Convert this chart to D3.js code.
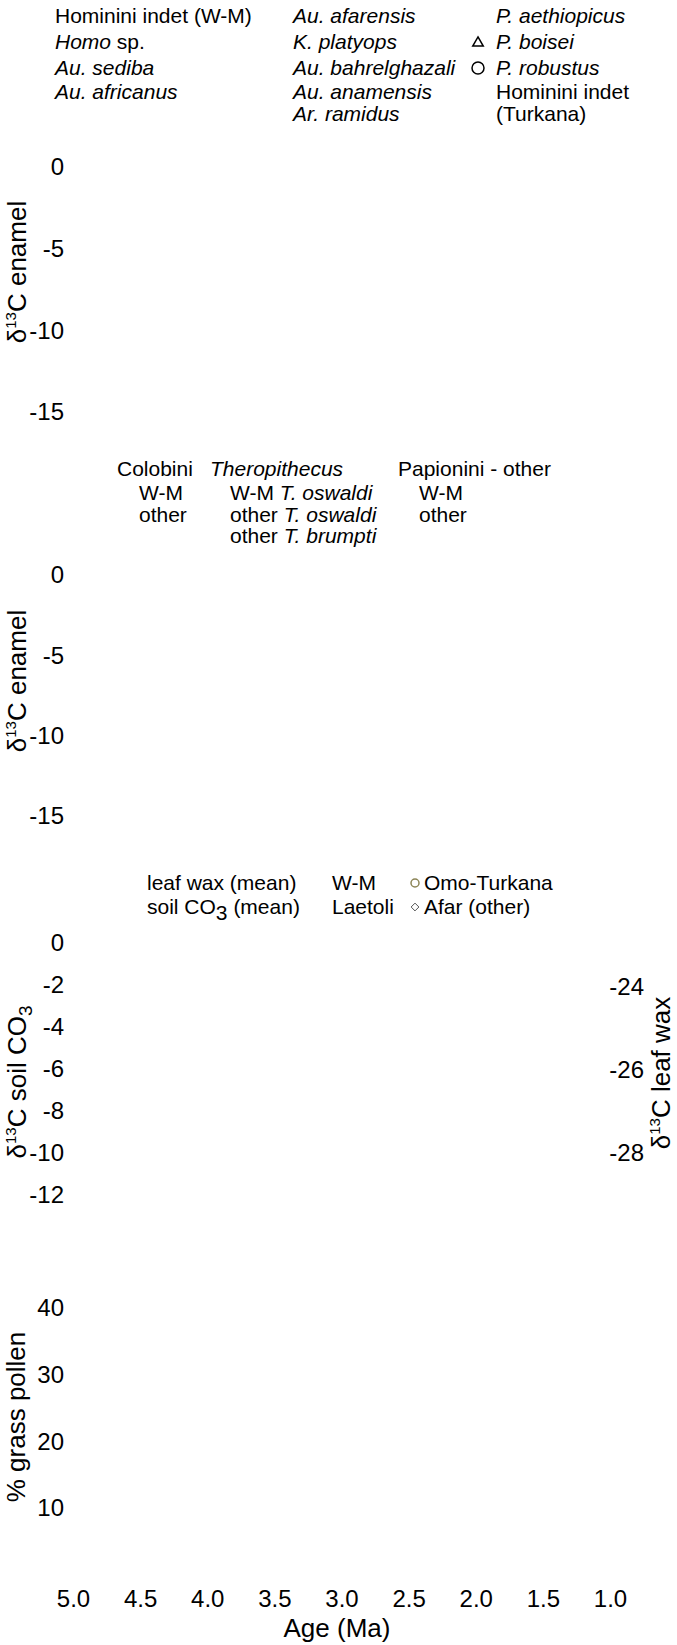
<!DOCTYPE html>
<html>
<head>
<meta charset="utf-8">
<script src="https://cdn.jsdelivr.net/npm/d3@7"></script>
<style>
  body { margin: 0; background: #fff; }
  svg { display: block; font-family: "Liberation Sans", Arial, sans-serif; }
  .tick text { fill: #000; }
</style>
</head>
<body>
<svg id="chart" width="677" height="1645"></svg>
<script>
// tick values
const ageTicks = [5.0, 4.5, 4.0, 3.5, 3.0, 2.5, 2.0, 1.5, 1.0];
const enamelTicks = [0, -5, -10, -15];
const soilTicks = [0, -2, -4, -6, -8, -10, -12];
const waxTicks = [-24, -26, -28];
const pollenTicks = [40, 30, 20, 10];

// legend texts; each entry is a list of [text, italic]
const homininCol1 = [[["Hominini indet (W-M)", 0]], [["Homo", 1], [" sp.", 0]], [["Au. sediba", 1]], [["Au. africanus", 1]]];
const homininCol2 = [[["Au. afarensis", 1]], [["K. platyops", 1]], [["Au. bahrelghazali", 1]], [["Au. anamensis", 1]], [["Ar. ramidus", 1]]];
const homininCol3 = [[["P. aethiopicus", 1]], [["P. boisei", 1]], [["P. robustus", 1]], [["Hominini indet", 0]], [["(Turkana)", 0]]];
const homininSymbols = [null, "triangle", "circle", null, null];

const monkeyHeads = [[["Colobini", 0]], [["Theropithecus", 1]], [["Papionini - other", 0]]];
const colobiniRows = [[["W-M", 0]], [["other", 0]]];
const theroRows = [[["W-M ", 0], ["T. oswaldi", 1]], [["other ", 0], ["T. oswaldi", 1]], [["other ", 0], ["T. brumpti", 1]]];
const papioRows = [[["W-M", 0]], [["other", 0]]];

const proxyRows = ["leaf wax (mean)", "soil CO3 (mean)"];
const siteRows = ["W-M", "Laetoli"];
const basinRows = ["Omo-Turkana", "Afar (other)"];
const basinSymbols = ["circle", "diamond"];

const svg = d3.select("#chart");
const TICK_FS = 24, TITLE_FS = 26, LEG_FS = 21;

// shared age axis
const x = d3.scaleLinear().domain([5, 1]).range([73, 610]);

// panel scales (y)
const yEnamelTop = d3.scaleLinear().domain([0, -15]).range([167, 412]);
const yEnamelMid = d3.scaleLinear().domain([0, -15]).range([575, 816]);
const ySoil = d3.scaleLinear().domain([0, -12]).range([943, 1195]);
const yWax = d3.scaleLinear().domain([-24, -28]).range([987, 1153]);
const yPollen = d3.scaleLinear().domain([40, 10]).range([1308, 1508]);

function styleAxis(g) {
  g.select(".domain").remove();
  g.selectAll(".tick line").remove();
  g.selectAll(".tick text").attr("font-size", TICK_FS).attr("font-family", null);
}

function leftAxis(scale, ticks) {
  svg.append("g").attr("transform", "translate(64,0)")
    .call(d3.axisLeft(scale).tickValues(ticks).tickSize(0).tickPadding(0).tickFormat(d => String(d)))
    .call(styleAxis);
}

leftAxis(yEnamelTop, enamelTicks);
leftAxis(yEnamelMid, enamelTicks);
leftAxis(ySoil, soilTicks);
leftAxis(yPollen, pollenTicks);

svg.append("g").attr("transform", "translate(644,0)")
  .call(d3.axisRight(yWax).tickValues(waxTicks).tickSize(0).tickPadding(0).tickFormat(d => String(d)))
  .call(styleAxis)
  .selectAll(".tick text").attr("text-anchor", "end").attr("x", 0);

svg.append("g").attr("transform", "translate(0,1580)")
  .call(d3.axisBottom(x).tickValues(ageTicks).tickSize(0).tickPadding(10).tickFormat(d3.format(".1f")))
  .call(styleAxis);

svg.append("text").attr("x", 337).attr("y", 1637).attr("text-anchor", "middle")
  .attr("font-size", TITLE_FS).text("Age (Ma)");

// rotated axis titles: delta 13 C ...
function yTitle(cx, cy, rest, sub) {
  const t = svg.append("text").attr("transform", `translate(${cx},${cy}) rotate(-90)`)
    .attr("text-anchor", "middle").attr("font-size", TITLE_FS);
  t.append("tspan").text("δ");
  t.append("tspan").attr("font-size", 15).attr("dy", -10).text("13");
  t.append("tspan").attr("dy", 10).text(rest);
  if (sub) t.append("tspan").attr("font-size", 19).attr("dy", 6).text(sub);
}
yTitle(26, 272, "C enamel");
yTitle(26, 681, "C enamel");
yTitle(26, 1082, "C soil CO", "3");
yTitle(670, 1073, "C leaf wax");

svg.append("text").attr("transform", "translate(25,1417) rotate(-90)")
  .attr("text-anchor", "middle").attr("font-size", TITLE_FS).text("% grass pollen");

// legend helpers
function richText(parent, xPos, yPos, parts) {
  const t = parent.append("text").attr("x", xPos).attr("y", yPos).attr("font-size", LEG_FS);
  parts.forEach(([s, it]) => t.append("tspan").attr("font-style", it ? "italic" : null).text(s));
  return t;
}

function symbol(parent, kind, cx, cy, r, stroke) {
  if (kind === "triangle") {
    parent.append("path").attr("d", d3.symbol(d3.symbolTriangle2, r * r * 2.2)())
      .attr("transform", `translate(${cx},${cy + 1})`).attr("fill", "none").attr("stroke", stroke).attr("stroke-width", 1.5);
  } else if (kind === "circle") {
    parent.append("circle").attr("cx", cx).attr("cy", cy).attr("r", r)
      .attr("fill", "none").attr("stroke", stroke).attr("stroke-width", 1.5);
  } else if (kind === "diamond") {
    parent.append("path").attr("d", d3.symbol(d3.symbolDiamond2, r * r * 2.4)())
      .attr("transform", `translate(${cx},${cy})`).attr("fill", "none").attr("stroke", stroke).attr("stroke-width", 1);
  }
}

// hominin legend
const leg1 = svg.append("g");
const rowY1 = [23, 49, 75, 99, 121];
homininCol1.forEach((p, i) => richText(leg1, 55, rowY1[i], p));
homininCol2.forEach((p, i) => richText(leg1, 293, rowY1[i], p));
homininCol3.forEach((p, i) => richText(leg1, 496, rowY1[i], p));
homininSymbols.forEach((s, i) => { if (s) symbol(leg1, s, 478, rowY1[i] - 7, 6, "#000"); });

// cercopithecid legend
const leg2 = svg.append("g");
const headX = [117, 210, 398];
monkeyHeads.forEach((p, i) => richText(leg2, headX[i], 476, p));
const rowY2 = [500, 522, 543];
colobiniRows.forEach((p, i) => richText(leg2, 139, rowY2[i], p));
theroRows.forEach((p, i) => richText(leg2, 230, rowY2[i], p));
papioRows.forEach((p, i) => richText(leg2, 419, rowY2[i], p));

// paleoenvironment legend
const leg3 = svg.append("g");
const rowY3 = [890, 914];
proxyRows.forEach((s, i) => {
  const t = leg3.append("text").attr("x", 147).attr("y", rowY3[i]).attr("font-size", LEG_FS);
  const m = s.match(/^(.*CO)3(.*)$/);
  if (m) {
    t.append("tspan").text(m[1]);
    t.append("tspan").attr("dy", 6).text("3");
    t.append("tspan").attr("dy", -6).text(m[2]);
  } else t.text(s);
});
siteRows.forEach((s, i) => leg3.append("text").attr("x", 332).attr("y", rowY3[i]).attr("font-size", LEG_FS).text(s));
basinRows.forEach((s, i) => {
  leg3.append("text").attr("x", 424).attr("y", rowY3[i]).attr("font-size", LEG_FS).text(s);
  symbol(leg3, basinSymbols[i], 415, rowY3[i] - 7, 4, i === 0 ? "#8c8557" : "#555");
});
</script>
</body>
</html>
